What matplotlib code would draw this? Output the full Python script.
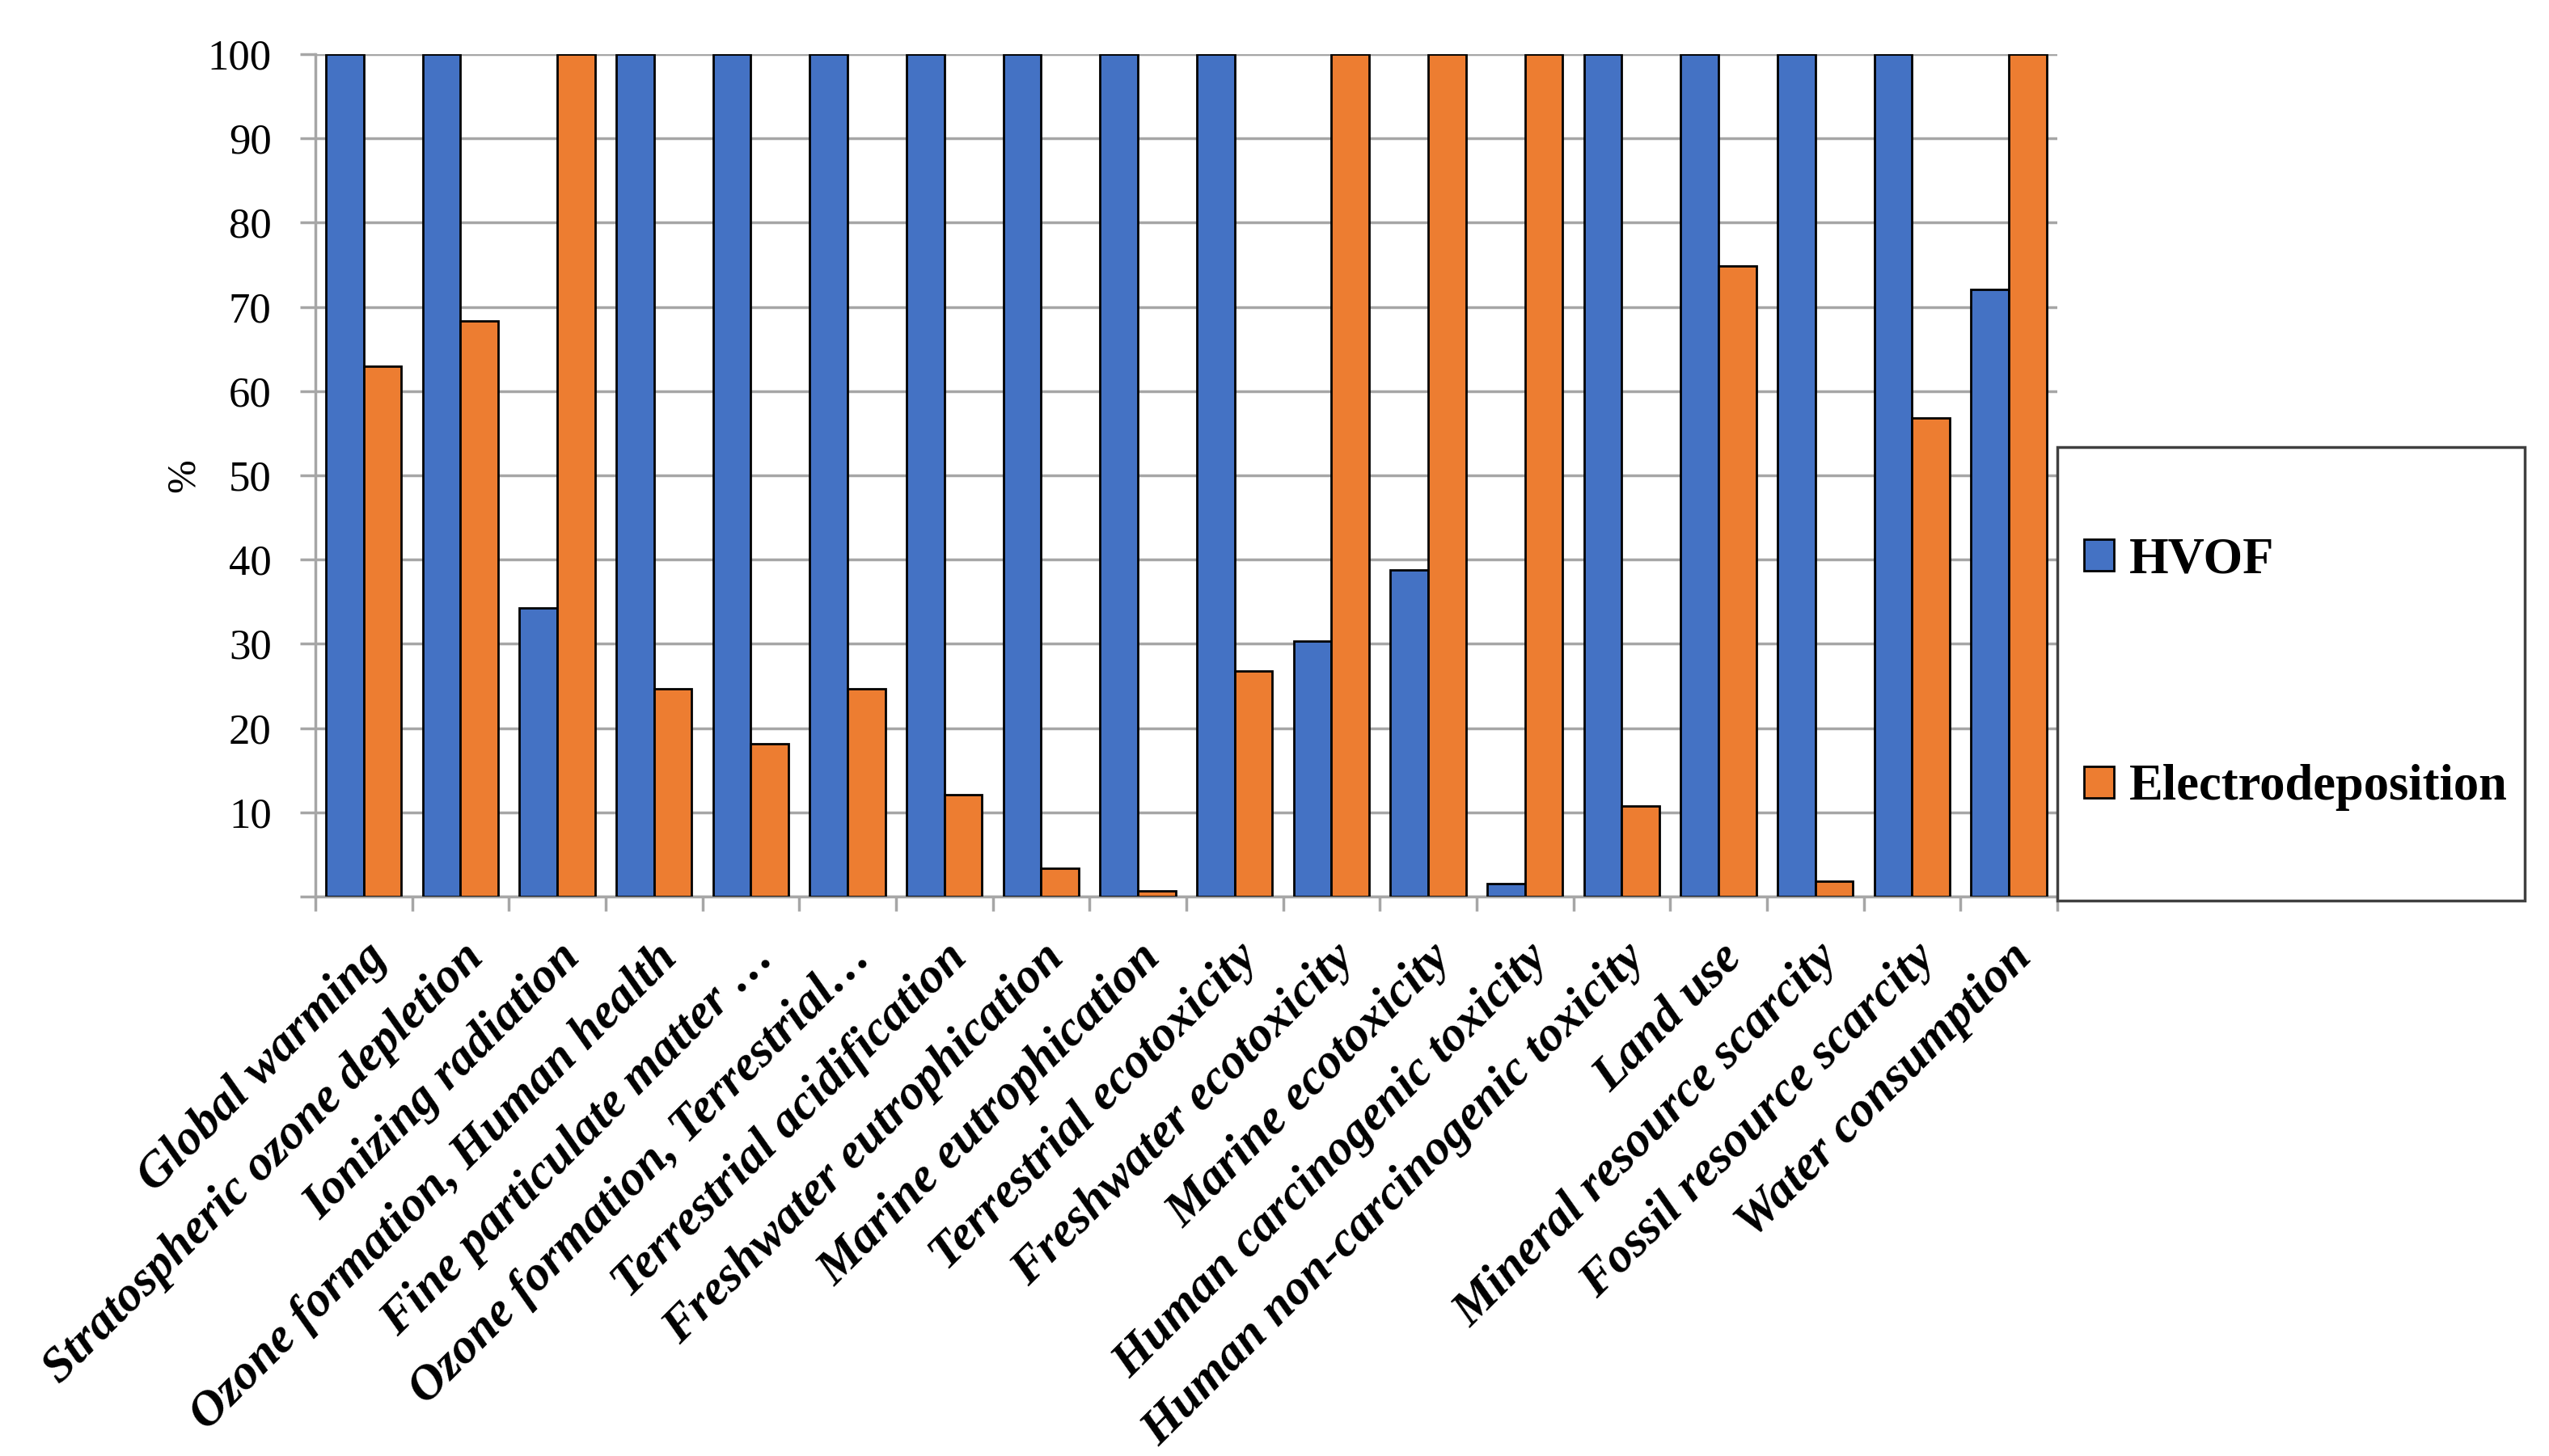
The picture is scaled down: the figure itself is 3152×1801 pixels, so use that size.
import numpy as np
import matplotlib
matplotlib.use("Agg")
import matplotlib.pyplot as plt
from matplotlib.patches import Rectangle

# impact categories (ReCiPe midpoint), normalised to the larger of the two processes
categories = [
    "Global warming", "Stratospheric ozone depletion", "Ionizing radiation",
    "Ozone formation, Human health", "Fine particulate matter \u2026",
    "Ozone formation, Terrestrial\u2026", "Terrestrial acidification",
    "Freshwater eutrophication", "Marine eutrophication", "Terrestrial ecotoxicity",
    "Freshwater ecotoxicity", "Marine ecotoxicity", "Human carcinogenic toxicity",
    "Human non-carcinogenic toxicity", "Land use", "Mineral resource scarcity",
    "Fossil resource scarcity", "Water consumption",
]
hvof = [100, 100, 34.3, 100, 100, 100, 100, 100, 100, 100,
        30.3, 38.8, 1.5, 100, 100, 100, 100, 72.1]
electro = [63.0, 68.3, 100, 24.7, 18.1, 24.7, 12.1, 3.4, 0.7, 26.8,
           100, 100, 100, 10.8, 74.9, 1.8, 56.8, 100]
yticks = list(range(0, 101, 10))

blue = "#4472C4"
orange = "#ED7D31"
grid_col = "#A6A6A6"

fig = plt.figure(figsize=(31.52, 18.01), dpi=100)
ax = fig.add_axes([0.1237, 0.3842, 0.6834, 0.5786])

x = np.arange(len(categories))
w = 0.39
ax.bar(x - w / 2, hvof, w, color=blue, edgecolor="black", linewidth=2, label="HVOF", zorder=3)
ax.bar(x + w / 2, electro, w, color=orange, edgecolor="black", linewidth=2,
       label="Electrodeposition", zorder=3)

ax.set_xlim(-0.5, len(categories) - 0.5)
ax.set_ylim(0, 100)

# y axis
ax.set_yticks(yticks)
ax.set_yticklabels(["" if v == 0 else str(v) for v in yticks],
                   family="Liberation Serif", fontsize=38)
ax.yaxis.grid(True, color=grid_col, linewidth=2.5, zorder=0)
ax.tick_params(axis="y", length=14, width=2.5, color=grid_col, pad=25)
ax.set_ylabel("%", family="Liberation Serif", fontsize=36, labelpad=4)

# x axis: boundary ticks (major, unlabeled) and category labels (minor)
ax.set_xticks(np.arange(len(categories) + 1) - 0.5)
ax.set_xticklabels([])
ax.set_xticks(x, minor=True)
ax.set_xticklabels(categories, minor=True, rotation=45, ha="right", rotation_mode="anchor",
                   family="Liberation Serif", fontweight="bold", fontstyle="italic", fontsize=44)
ax.tick_params(axis="x", which="major", length=13, width=2.5, color=grid_col)
ax.tick_params(axis="x", which="minor", length=0, pad=34)

for s in ["top", "right"]:
    ax.spines[s].set_visible(False)
for s in ["left", "bottom"]:
    ax.spines[s].set_color(grid_col)
    ax.spines[s].set_linewidth(2.5)

# legend box outside the plot
fig.patches.append(Rectangle((0.8071, 0.3815), 0.1834, 0.3115, transform=fig.transFigure,
                             facecolor="white", edgecolor="#404040", linewidth=2.5))
leg = fig.legend(loc="center left", bbox_to_anchor=(0.8078, 0.5369), frameon=False,
                 prop={"family": "Liberation Serif", "weight": "bold", "size": 45},
                 borderpad=0, handlelength=0.59, handleheight=0.59, handletextpad=0.29,
                 labelspacing=3.56)

fig.savefig("out.png", dpi=100)
